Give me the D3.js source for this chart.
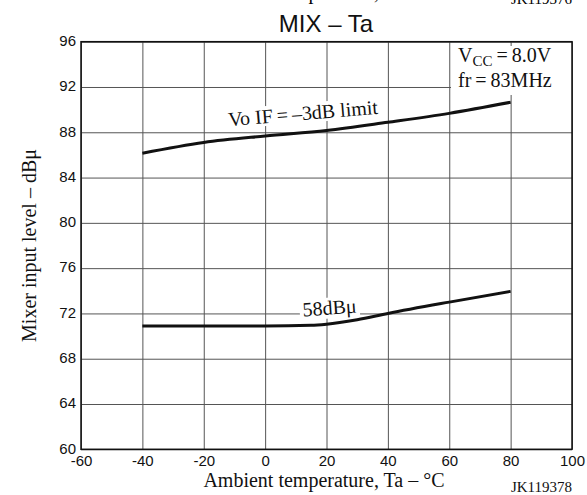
<!DOCTYPE html>
<html>
<head>
<meta charset="utf-8">
<script src="https://cdn.jsdelivr.net/npm/d3@7/dist/d3.min.js"></script>
<style>
  html, body { margin: 0; padding: 0; background: #fff; }
  svg { display: block; }
</style>
</head>
<body>
<script>
// ---- data ----
const xTicks = [-60, -40, -20, 0, 20, 40, 60, 80, 100];
const yTicks = [60, 64, 68, 72, 76, 80, 84, 88, 92, 96];

const upperTemp  = [-40, -20, 0, 20, 40, 60, 80];
const upperLevel = [86.15, 87.1, 87.67, 88.15, 88.88, 89.67, 90.65];

const lowerTemp  = [-40, -20, 0, 15, 20, 30, 40, 60, 80];
const lowerLevel = [70.9, 70.9, 70.9, 70.95, 71.05, 71.45, 72.0, 73.0, 73.95];

const title = "MIX \u2013 Ta";
const xTitle = "Ambient temperature, Ta \u2013 \u00B0C";
const yTitle = "Mixer input level \u2013 dB\u03BC";
const upperLabel = "Vo IF\u2009=\u2009\u20133dB limit";
const lowerLabel = "58dB\u03BC";
const figId = "JK119378";
const prevFigId = "JK119376";

// ---- layout ----
const W = 587, H = 495;
const SERIF = "'Liberation Serif','Times New Roman',Times,serif";
const SANS = "'Liberation Sans',Arial,Helvetica,sans-serif";

const svg = d3.select("body").append("svg").attr("width", W).attr("height", H);

const x = d3.scaleLinear().domain([-60, 100]).range([81, 572]);
const y = d3.scaleLinear().domain([60, 96]).range([449.3, 41.7]);

const plotW = x(100) - x(-60), plotH = y(60) - y(96);

// remnants of previous figure (cut off at top, as in the reference)
svg.append("text").attr("x", 324).attr("y", -1.2).attr("text-anchor", "middle")
  .attr("font-family", SERIF).attr("font-size", 20).text(xTitle);
svg.append("text").attr("x", 572).attr("y", 3.7).attr("text-anchor", "end")
  .attr("font-family", SERIF).attr("font-size", 15).text(prevFigId);

// title
svg.append("text").attr("x", 326).attr("y", 32).attr("text-anchor", "middle")
  .attr("font-family", SANS).attr("font-size", 24).attr("fill", "#111").text(title);

// axes / gridlines
const fmt = d => String(d);
const gx = svg.append("g").attr("transform", `translate(0,${y(60)})`)
  .call(d3.axisBottom(x).tickValues(xTicks).tickFormat(fmt).tickSize(-plotH).tickPadding(6));
const gy = svg.append("g").attr("transform", `translate(${x(-60)},0)`)
  .call(d3.axisLeft(y).tickValues(yTicks).tickFormat(fmt).tickSize(-plotW).tickPadding(5));

[gx, gy].forEach(g => {
  g.select(".domain").remove();
  g.selectAll(".tick line").attr("stroke", "#555").attr("stroke-width", 1);
  g.selectAll(".tick text").attr("font-family", SANS).attr("font-size", 15).attr("fill", "#111");
});
gy.selectAll(".tick text").attr("dy", "0.25em");

// legend box (white background)
const leg = svg.append("g");
leg.append("rect").attr("x", 451).attr("y", 46).attr("width", x(100) - 451).attr("height", 49).attr("fill", "#fff");
const t1 = leg.append("text").attr("x", 458).attr("y", 62)
  .attr("font-family", SERIF).attr("font-size", 20).attr("fill", "#111");
t1.append("tspan").text("V");
t1.append("tspan").attr("font-size", 15).attr("dy", 4).text("CC");
t1.append("tspan").attr("dy", -4).text("\u2009=\u20098.0V");
leg.append("text").attr("x", 458).attr("y", 87)
  .attr("font-family", SERIF).attr("font-size", 20).attr("fill", "#111")
  .text("fr\u2009=\u200983MHz");

// curve labels with white background
function label(txt, cx, cy, angle) {
  const g = svg.append("g").attr("transform", `translate(${cx},${cy}) rotate(${angle})`);
  const r = g.append("rect").attr("fill", "#fff");
  const t = g.append("text").attr("text-anchor", "middle")
    .attr("font-family", SERIF).attr("font-size", 20).attr("fill", "#111").text(txt);
  const b = t.node().getBBox();
  r.attr("x", b.x - 3).attr("y", b.y + 1).attr("width", b.width + 6).attr("height", b.height - 2);
}
label(upperLabel, 303.5, 120, -4.7);
label(lowerLabel, 330, 314.5, -4);

// curves
const line = d3.line().x(d => x(d[0])).y(d => y(d[1])).curve(d3.curveMonotoneX);
svg.append("path").datum(d3.zip(upperTemp, upperLevel)).attr("d", line)
  .attr("fill", "none").attr("stroke", "#111").attr("stroke-width", 3);
svg.append("path").datum(d3.zip(lowerTemp, lowerLevel)).attr("d", line)
  .attr("fill", "none").attr("stroke", "#111").attr("stroke-width", 3);

// frame
svg.append("rect").attr("x", x(-60)).attr("y", y(96)).attr("width", plotW).attr("height", plotH)
  .attr("fill", "none").attr("stroke", "#111").attr("stroke-width", 1.5);

// axis titles
svg.append("text").attr("x", 324).attr("y", 487).attr("text-anchor", "middle")
  .attr("font-family", SERIF).attr("font-size", 20).attr("fill", "#111").text(xTitle);
svg.append("text").attr("transform", `translate(36,${(y(60) + y(96)) / 2}) rotate(-90)`)
  .attr("text-anchor", "middle").attr("font-family", SERIF).attr("font-size", 20)
  .attr("fill", "#111").text(yTitle);
svg.append("text").attr("x", 572).attr("y", 491.5).attr("text-anchor", "end")
  .attr("font-family", SERIF).attr("font-size", 15).attr("fill", "#111").text(figId);
</script>
</body>
</html>
